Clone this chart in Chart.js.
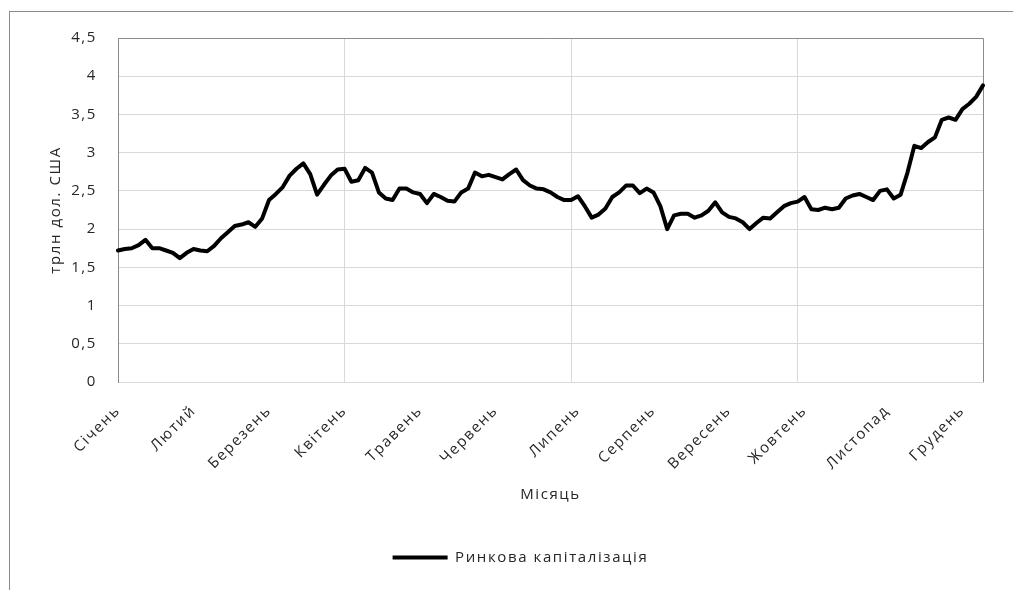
<!DOCTYPE html>
<html lang="uk">
<head>
<meta charset="utf-8">
<title>Ринкова капіталізація</title>
<script src="https://cdn.jsdelivr.net/npm/chart.js@4.4.1/dist/chart.umd.min.js"></script>
<style>
  html, body { margin: 0; padding: 0; background: #fff; overflow: hidden; }
  #frame {
    position: absolute; left: 9px; top: 11px; width: 1040px; height: 620px;
    border-left: 1px solid #8a8a8a; border-top: 1px solid #8a8a8a;
  }
  #wrap { position: absolute; left: 10px; top: 12px; width: 1021px; height: 590px; }
</style>
</head>
<body>
<div id="frame"></div>
<div id="wrap"><canvas id="capChart"></canvas></div>
<script>
const months = ['Січень', 'Лютий', 'Березень', 'Квітень', 'Травень', 'Червень',
                'Липень', 'Серпень', 'Вересень', 'Жовтень', 'Листопад', 'Грудень'];
// номер першої точки кожного місяця
const monthStart = [0, 11, 22, 33, 44, 55, 67, 78, 89, 100, 112, 123];

// ринкова капіталізація, трлн дол. США (127 точок за рік)
const capValues = [
  1.72, 1.74, 1.75, 1.79, 1.86, 1.75, 1.75, 1.72, 1.69, 1.62,
  1.69, 1.74, 1.72, 1.71, 1.78, 1.88, 1.96, 2.04, 2.06, 2.09,
  2.03, 2.14, 2.38, 2.46, 2.55, 2.70, 2.79, 2.86, 2.72, 2.45,
  2.58, 2.70, 2.78, 2.79, 2.62, 2.64, 2.80, 2.74, 2.48, 2.40,
  2.38, 2.53, 2.53, 2.48, 2.46, 2.34, 2.46, 2.42, 2.37, 2.36,
  2.48, 2.53, 2.74, 2.69, 2.71, 2.68, 2.65, 2.72, 2.78, 2.64,
  2.57, 2.53, 2.52, 2.48, 2.42, 2.38, 2.38, 2.43, 2.30, 2.15,
  2.19, 2.27, 2.42, 2.48, 2.57, 2.57, 2.47, 2.53, 2.48, 2.30,
  2.00, 2.18, 2.20, 2.20, 2.15, 2.18, 2.24, 2.35, 2.22, 2.16,
  2.14, 2.09, 2.00, 2.08, 2.15, 2.14, 2.22, 2.30, 2.34, 2.36,
  2.42, 2.26, 2.25, 2.28, 2.26, 2.28, 2.40, 2.44, 2.46, 2.42,
  2.38, 2.50, 2.52, 2.40, 2.45, 2.74, 3.09, 3.06, 3.14, 3.20,
  3.43, 3.46, 3.43, 3.57, 3.64, 3.73, 3.88
];

const gridEvery = 33;    // вертикальна сітка
const yTicks = [0, 0.5, 1, 1.5, 2, 2.5, 3, 3.5, 4, 4.5];

const labels = capValues.map((_, i) => {
  const m = monthStart.indexOf(i);
  return m >= 0 ? months[m] : '';
});

const FONT = { family: '"Open Sans", "Noto Sans", sans-serif', size: 15 };
const TEXT = '#262626';
const GRID = '#d9d9d9';
const FRAME = '#8c8c8c';

// ширший трекінг тексту
const spacing = {
  id: 'spacing',
  beforeUpdate(chart) { chart.ctx.letterSpacing = '1.6px'; },
  beforeDraw(chart) { chart.ctx.letterSpacing = '1.6px'; }
};

// легенда по центру всього полотна, а не лише лівої частини
const legendShift = {
  id: 'legendShift',
  afterLayout(chart) {
    const lg = chart.legend;
    if (lg) { lg.left += 24; lg.right += 24; }
  }
};

// верхня і права рамка області побудови
const plotFrame = {
  id: 'plotFrame',
  beforeDatasetsDraw(chart) {
    const { ctx, chartArea: a } = chart;
    ctx.save();
    ctx.strokeStyle = FRAME;
    ctx.lineWidth = 1;
    ctx.beginPath();
    ctx.moveTo(a.left, a.top + 0.5);
    ctx.lineTo(a.right + 0.5, a.top + 0.5);
    ctx.lineTo(a.right + 0.5, a.bottom);
    ctx.stroke();
    ctx.restore();
  }
};

const ctx = document.getElementById('capChart').getContext('2d');

new Chart(ctx, {
  type: 'line',
  data: {
    labels: labels,
    datasets: [{
      label: 'Ринкова капіталізація',
      data: capValues,
      borderColor: '#000',
      backgroundColor: '#000',
      borderWidth: 4,
      borderJoinStyle: 'round',
      borderCapStyle: 'round',
      pointRadius: 0,
      tension: 0
    }]
  },
  options: {
    responsive: true,
    maintainAspectRatio: false,
    animation: false,
    layout: { padding: { top: 26, right: 48, bottom: 27, left: 0 } },
    plugins: {
      tooltip: { enabled: false },
      legend: {
        position: 'bottom',
        labels: {
          font: FONT,
          color: TEXT,
          usePointStyle: true,
          pointStyle: 'line',
          pointStyleWidth: 55
        }
      }
    },
    scales: {
      x: {
        type: 'category',
        offset: false,
        afterFit(scale) { scale.height = 158; },
        grid: {
          drawTicks: false,
          color: (c) => (c.index > 0 && c.index % gridEvery === 0 ? GRID : 'rgba(0,0,0,0)')
        },
        border: { color: GRID },
        ticks: {
          autoSkip: false,
          maxRotation: 45,
          minRotation: 45,
          padding: 20,
          font: FONT,
          color: TEXT
        },
        title: {
          display: true,
          text: 'Місяць',
          font: FONT,
          color: TEXT,
          padding: { top: 0, bottom: 36 }
        }
      },
      y: {
        min: 0,
        max: 4.5,
        afterFit(scale) {
          scale.width = 108;
          scale.paddingTop = 0;
          scale.paddingBottom = 0;
        },
        afterBuildTicks(scale) { scale.ticks = yTicks.map(v => ({ value: v })); },
        grid: { drawTicks: false, color: GRID },
        border: { color: FRAME },
        ticks: {
          padding: 21,
          font: FONT,
          color: TEXT,
          callback: (v) => String(v).replace('.', ',')
        },
        title: {
          display: true,
          text: 'трлн дол. США',
          font: FONT,
          color: TEXT,
          padding: { top: 37, bottom: 0 }
        }
      }
    }
  },
  plugins: [spacing, legendShift, plotFrame]
});
</script>
</body>
</html>
